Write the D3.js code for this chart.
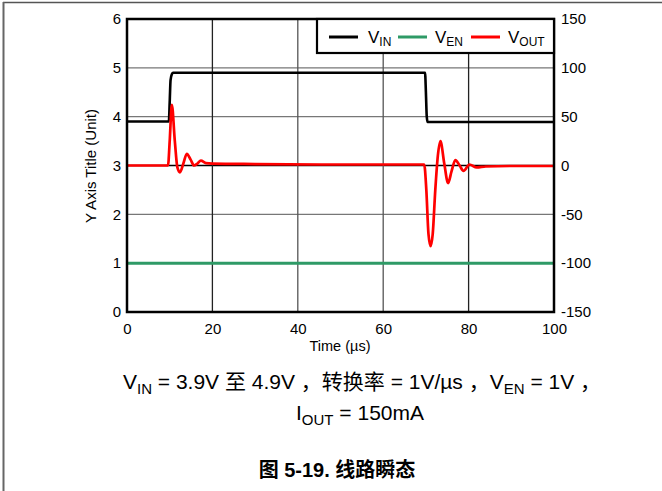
<!DOCTYPE html>
<html>
<head>
<meta charset="utf-8">
<script src="https://cdn.jsdelivr.net/npm/d3@7/dist/d3.min.js"></script>
<style>
  html, body { margin: 0; padding: 0; background: #fff; }
  svg { display: block; font-family: "Liberation Sans", Arial, sans-serif; }
</style>
</head>
<body>
<svg id="chart" width="662" height="491"></svg>
<script>
// Time axis (µs)
const xTicks = [0, 20, 40, 60, 80, 100];
const yLeftTicks = [0, 1, 2, 3, 4, 5, 6];
const yRightTicks = [-150, -100, -50, 0, 50, 100, 150];

// VIN step 3.9 V -> 4.9 V -> 3.9 V (left axis, V)
const vinTime = [0, 9.8, 10.0, 10.2, 10.5, 10.8, 69.8, 70.0, 70.2, 70.4, 100];
const vinValue = [3.9, 3.9, 4.3, 4.75, 4.87, 4.9, 4.9, 4.5, 4.0, 3.89, 3.89];

// VEN held at 1 V (left axis, V)
const venTime = [0, 100];
const venValue = [1.0, 1.0];

// VOUT deviation (right axis, mV)
const voutTime = [0, 9.6, 10.0, 10.5, 11.2, 11.8, 12.4, 13.2, 14.0, 14.9, 15.7, 16.5, 17.3, 18.5, 20,
                  30, 50, 69.6, 70.1, 70.6, 71.1, 71.6, 72.2, 72.8, 73.4, 74.3, 75.2, 76.0, 76.9,
                  77.9, 78.8, 80.2, 81.9, 84, 90, 100];
const voutValue = [0, 0, 25, 62, 25, -2, -7, 2, 12, 6, 0, 2, 5, 2.5, 2,
                   1.5, 1, 1, -25, -70, -82.5, -70, -25, 10, 25, 2, -18, -6, 5.5,
                   0, -5.5, 1, -2, -1, -0.5, -0.5];

const svg = d3.select("#chart");

// page frame
svg.append("line").attr("x1", 3).attr("x2", 662).attr("y1", 2.5).attr("y2", 2.5)
  .attr("stroke", "#555").attr("stroke-width", 1.5);
svg.append("line").attr("x1", 3.5).attr("x2", 3.5).attr("y1", 2).attr("y2", 491)
  .attr("stroke", "#666").attr("stroke-width", 2);

const plot = { left: 127, right: 554, top: 19, bottom: 312 };

const x = d3.scaleLinear().domain([0, 100]).range([plot.left, plot.right]);
const yL = d3.scaleLinear().domain([0, 6]).range([plot.bottom, plot.top]);
const yR = d3.scaleLinear().domain([-150, 150]).range([plot.bottom, plot.top]);

// grid
const grid = svg.append("g");
grid.selectAll(".hg").data(yLeftTicks.filter(d => d > 0 && d < 6)).join("line")
  .attr("x1", plot.left).attr("x2", plot.right)
  .attr("y1", d => yL(d)).attr("y2", d => yL(d))
  .attr("stroke", d => d === 3 ? "#000" : "#777").attr("stroke-width", 1.3);
grid.selectAll(".vg").data(xTicks.filter(d => d > 0 && d < 100)).join("line")
  .attr("y1", plot.top).attr("y2", plot.bottom)
  .attr("x1", d => x(d)).attr("x2", d => x(d))
  .attr("stroke", d => (d === 20 || d === 80) ? "#222" : "#555").attr("stroke-width", 1.3);

// series
const lineL = (t, v) => d3.line().x((d, i) => x(t[i])).y(d => yL(d)).curve(d3.curveMonotoneX)(v);
const lineR = (t, v) => d3.line().x((d, i) => x(t[i])).y(d => yR(d)).curve(d3.curveMonotoneX)(v);

svg.append("path").attr("d", lineL(venTime, venValue))
  .attr("fill", "none").attr("stroke", "#2e9a66").attr("stroke-width", 3);
svg.append("path").attr("d", lineL(vinTime, vinValue))
  .attr("fill", "none").attr("stroke", "#000").attr("stroke-width", 2.6);
svg.append("path").attr("d", lineR(voutTime, voutValue))
  .attr("fill", "none").attr("stroke", "#ff0000").attr("stroke-width", 2.7)
  .attr("stroke-linejoin", "round");

// axes (plain hyphen for negatives)
const fmt = d => String(d);
const axL = svg.append("g").attr("transform", `translate(${plot.left},0)`)
  .call(d3.axisLeft(yL).tickValues(yLeftTicks).tickSize(0).tickPadding(6).tickFormat(fmt));
const axR = svg.append("g").attr("transform", `translate(${plot.right},0)`)
  .call(d3.axisRight(yR).tickValues(yRightTicks).tickSize(0).tickPadding(7).tickFormat(fmt));
const axB = svg.append("g").attr("transform", `translate(0,${plot.bottom})`)
  .call(d3.axisBottom(x).tickValues(xTicks).tickSize(0).tickPadding(11).tickFormat(fmt));
[axL, axR, axB].forEach(a => {
  a.select(".domain").remove();
  a.selectAll("text").attr("font-size", 15).attr("fill", "#000")
    .attr("font-family", "'Liberation Sans', Arial, sans-serif");
});

// frame
svg.append("rect").attr("x", plot.left).attr("y", plot.top)
  .attr("width", plot.right - plot.left).attr("height", plot.bottom - plot.top)
  .attr("fill", "none").attr("stroke", "#000").attr("stroke-width", 2.5);

// legend
const leg = svg.append("g");
leg.append("rect").attr("x", 317).attr("y", plot.top)
  .attr("width", plot.right - 317).attr("height", 34)
  .attr("fill", "#fff").attr("stroke", "#000").attr("stroke-width", 2.2);
const legendItems = [
  { name: "V", sub: "IN", color: "#000", x0: 329, tx: 368 },
  { name: "V", sub: "EN", color: "#2e9a66", x0: 398, tx: 435 },
  { name: "V", sub: "OUT", color: "#ff0000", x0: 471, tx: 508 }
];
legendItems.forEach(it => {
  leg.append("line").attr("x1", it.x0).attr("x2", it.x0 + 29).attr("y1", 37).attr("y2", 37)
    .attr("stroke", it.color).attr("stroke-width", 3);
  const t = leg.append("text").attr("x", it.tx).attr("y", 43).attr("font-size", 17);
  t.append("tspan").text(it.name);
  t.append("tspan").attr("font-size", 12).attr("dy", 3).text(it.sub);
});

// axis titles
svg.append("text").attr("x", 340).attr("y", 351).attr("text-anchor", "middle")
  .attr("font-size", 14.5).text("Time (µs)");
svg.append("text").attr("transform", "translate(96,166) rotate(-90)")
  .attr("text-anchor", "middle").attr("font-size", 15).text("Y Axis Title (Unit)");

// caption
const cap = svg.append("text").attr("x", 362).attr("y", 389).attr("text-anchor", "middle")
  .attr("font-size", 21).attr("font-family", "'Liberation Sans', 'Noto Sans CJK SC', sans-serif");
cap.append("tspan").text("V");
cap.append("tspan").attr("font-size", 15).attr("dy", 5).text("IN");
cap.append("tspan").attr("dy", -5).text(" = 3.9V 至 4.9V ，转换率 = 1V/µs ，V");
cap.append("tspan").attr("font-size", 15).attr("dy", 5).text("EN");
cap.append("tspan").attr("dy", -5).text(" = 1V ，");

const cap2 = svg.append("text").attr("x", 360).attr("y", 420).attr("text-anchor", "middle")
  .attr("font-size", 21);
cap2.append("tspan").text("I");
cap2.append("tspan").attr("font-size", 15).attr("dy", 5).text("OUT");
cap2.append("tspan").attr("dy", -5).text(" = 150mA");

svg.append("text").attr("x", 337).attr("y", 477).attr("text-anchor", "middle")
  .attr("font-size", 20).attr("font-weight", "bold")
  .attr("font-family", "'Liberation Sans', 'Noto Sans CJK SC', sans-serif")
  .text("图 5-19. 线路瞬态");
</script>
</body>
</html>
